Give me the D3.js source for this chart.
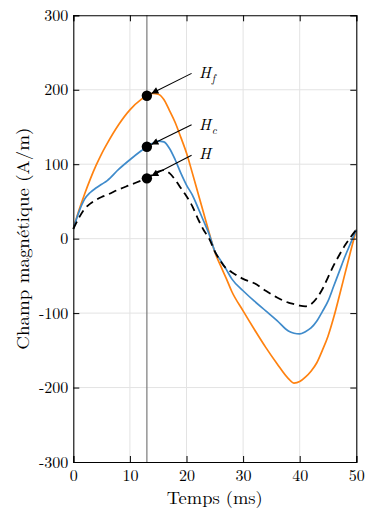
<!DOCTYPE html>
<html>
<head>
<meta charset="utf-8">
<script src="https://cdn.jsdelivr.net/npm/d3@7"></script>
<style>
  body { margin: 0; background: #fff; }
  svg text { font-family: "Latin Modern Roman", "CMU Serif", "Liberation Serif", serif; }
</style>
</head>
<body>
<svg id="chart"></svg>
<script>
// time in ms
const time = [0, 1, 2, 3, 4, 5, 6, 8, 10, 12, 13, 14, 15, 16, 17, 18, 19, 20, 21, 22, 23, 24, 25, 26, 27, 28, 30, 32, 34, 36, 38, 39, 40, 41, 42, 43, 44, 45, 46, 47, 48, 49, 50];

// H_f (orange)
const hF = [13, 38, 60, 80, 98, 114, 128, 153, 173, 187, 192, 195, 194, 187, 172, 156, 136, 115, 89, 62, 35, 8, -18, -36, -53, -71, -97, -122, -146, -168, -188, -194, -192, -186, -178, -167, -150, -131, -106, -77, -47, -17, 12];

// H_c (blue)
const hC = [13, 36, 53, 62, 68, 73, 78, 93, 106, 118, 123.5, 128, 131, 130, 121, 106, 88, 72, 59, 42, 24, 6, -17, -29, -41, -54, -70, -84, -97, -110, -124, -127, -128, -125, -120, -111, -98, -84, -64, -44, -24, -6, 12];

// H (black dashed)
const hTot = [13, 28, 40, 47, 52, 56, 59, 66, 72, 78, 81, 86, 90, 92, 88, 79, 68, 57, 44, 27, 12, 0, -17, -30, -40, -45, -54, -60, -70, -79, -86, -88, -90, -91, -88, -80, -68, -52, -36, -22, -9, 2, 12];

const xTicks = [0, 10, 20, 30, 40, 50];
const yTicks = [-300, -200, -100, 0, 100, 200, 300];

// annotation: markers at t = 13 ms
const markerTime = 13;
const markerValues = [192, 123.5, 81];
const arrowTailTime = 20.9;
const arrowTailValues = [222, 153, 112];
const labelTime = 22.2;
const labelValues = [216, 146, 107];
const labelSubs = ["f", "c", ""];

const width = 366, height = 509;
const margin = {left: 73.3, right: 9.7, top: 15.3, bottom: 47};

const svg = d3.select("#chart")
    .attr("width", width)
    .attr("height", height);

const x = d3.scaleLinear().domain([0, 50]).range([margin.left, width - margin.right]);
const y = d3.scaleLinear().domain([-300, 300]).range([height - margin.bottom, margin.top]);

// grid
svg.append("g")
    .selectAll("line")
    .data(xTicks.slice(1, -1))
    .join("line")
    .attr("x1", d => x(d)).attr("x2", d => x(d))
    .attr("y1", y(-300)).attr("y2", y(300))
    .attr("stroke", "#e3e3e3").attr("stroke-width", 1);

svg.append("g")
    .selectAll("line")
    .data(yTicks.slice(1, -1))
    .join("line")
    .attr("x1", x(0)).attr("x2", x(50))
    .attr("y1", d => y(d)).attr("y2", d => y(d))
    .attr("stroke", "#e3e3e3").attr("stroke-width", 1);

// vertical line at marker time
svg.append("line")
    .attr("x1", x(markerTime)).attr("x2", x(markerTime))
    .attr("y1", y(-300)).attr("y2", y(300))
    .attr("stroke", "#7a7a7a").attr("stroke-width", 1.2);

const line = (vals) => d3.line()
    .x((d, i) => x(time[i]))
    .y(d => y(d))
    .curve(d3.curveMonotoneX)(vals);

svg.append("path").attr("d", line(hF))
    .attr("fill", "none").attr("stroke", "#ff8210").attr("stroke-width", 1.7);
svg.append("path").attr("d", line(hC))
    .attr("fill", "none").attr("stroke", "#3f8bcb").attr("stroke-width", 1.7);
svg.append("path").attr("d", line(hTot))
    .attr("fill", "none").attr("stroke", "#000").attr("stroke-width", 1.8)
    .attr("stroke-dasharray", "8,5");

// arrows
svg.append("defs").append("marker")
    .attr("id", "head")
    .attr("viewBox", "0 0 10 10")
    .attr("refX", 10).attr("refY", 5)
    .attr("markerWidth", 9).attr("markerHeight", 7)
    .attr("markerUnits", "userSpaceOnUse")
    .attr("orient", "auto")
    .append("path").attr("d", "M0,0L10,5L0,10Z").attr("fill", "#000");

markerValues.forEach((v, i) => {
    const x0 = x(arrowTailTime), y0 = y(arrowTailValues[i]);
    const x1 = x(markerTime), y1 = y(v);
    const len = Math.hypot(x1 - x0, y1 - y0);
    const k = (len - 5) / len;
    svg.append("line")
        .attr("x1", x0).attr("y1", y0)
        .attr("x2", x0 + (x1 - x0) * k).attr("y2", y0 + (y1 - y0) * k)
        .attr("stroke", "#000").attr("stroke-width", 1.1)
        .attr("marker-end", "url(#head)");
});

svg.append("g")
    .selectAll("circle")
    .data(markerValues)
    .join("circle")
    .attr("cx", x(markerTime))
    .attr("cy", d => y(d))
    .attr("r", 5.2)
    .attr("fill", "#000");

// labels H_f, H_c, H
labelValues.forEach((v, i) => {
    const t = svg.append("text")
        .attr("x", x(labelTime)).attr("y", y(v))
        .attr("font-size", 16).attr("font-style", "italic");
    t.append("tspan").text("H");
    if (labelSubs[i]) {
        t.append("tspan").attr("font-size", 11).attr("dx", 1).attr("dy", 4).text(labelSubs[i]);
    }
});

// axes (box with inward ticks)
const fmt = d => String(d);
svg.append("g")
    .attr("transform", `translate(0,${y(-300)})`)
    .call(d3.axisBottom(x).tickValues(xTicks).tickFormat(fmt).tickSize(-6).tickPadding(8));
svg.append("g")
    .attr("transform", `translate(0,${y(300)})`)
    .call(d3.axisTop(x).tickValues(xTicks).tickFormat("").tickSize(-6));
svg.append("g")
    .attr("transform", `translate(${x(0)},0)`)
    .call(d3.axisLeft(y).tickValues(yTicks).tickFormat(fmt).tickSize(-6).tickPadding(5));
svg.append("g")
    .attr("transform", `translate(${x(50)},0)`)
    .call(d3.axisRight(y).tickValues(yTicks).tickFormat("").tickSize(-6));

svg.selectAll(".domain").attr("stroke", "#000").attr("stroke-width", 1.1);
svg.selectAll(".tick line").attr("stroke", "#000");
svg.selectAll(".tick text")
    .attr("font-size", 16)
    .attr("font-family", "Latin Modern Roman, CMU Serif, Liberation Serif, serif")
    .attr("fill", "#000");

// axis titles
svg.append("text")
    .attr("x", (x(0) + x(50)) / 2).attr("y", 504)
    .attr("text-anchor", "middle")
    .attr("font-size", 17)
    .attr("textLength", 96).attr("lengthAdjust", "spacingAndGlyphs")
    .text("Temps (ms)");

svg.append("text")
    .attr("transform", `translate(29,${(y(-300) + y(300)) / 2}) rotate(-90)`)
    .attr("text-anchor", "middle")
    .attr("font-size", 17)
    .attr("textLength", 222).attr("lengthAdjust", "spacingAndGlyphs")
    .text("Champ magnétique (A/m)");
</script>
</body>
</html>
